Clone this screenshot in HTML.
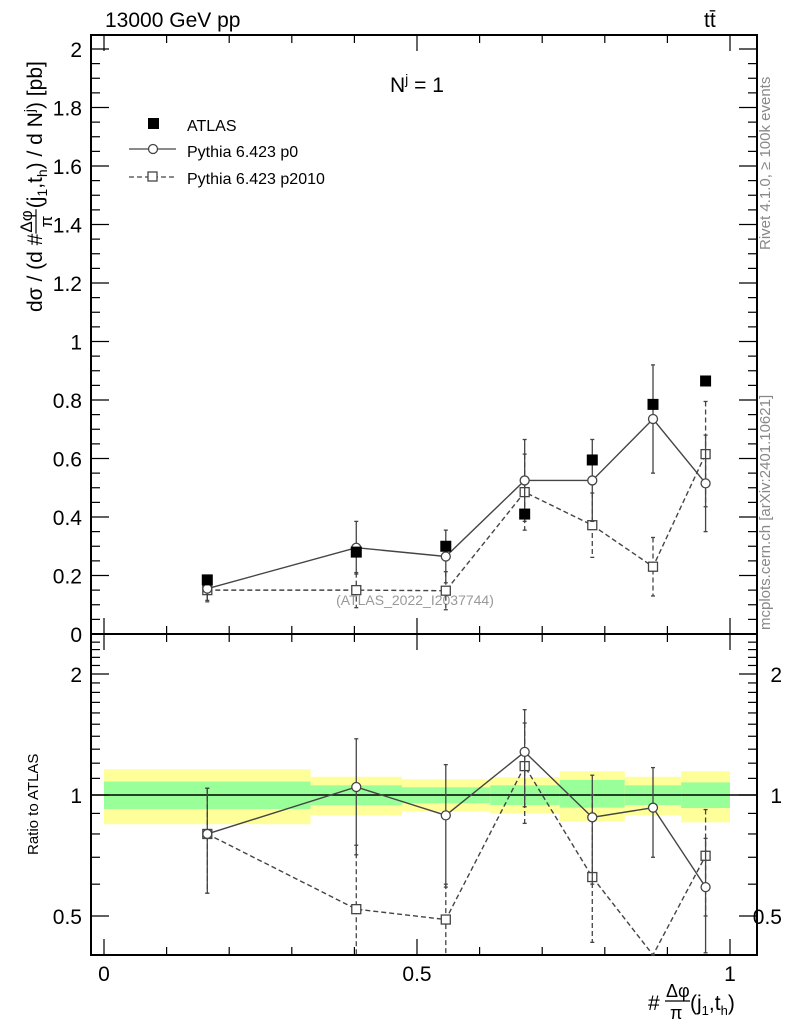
<!DOCTYPE html>
<html><head><meta charset="utf-8"><style>
body{margin:0;background:#fff;}
svg{display:block;font-family:"Liberation Sans",Arial,sans-serif;}
</style></head><body>
<svg id="c" width="786" height="1024" viewBox="0 0 786 1024" xmlns="http://www.w3.org/2000/svg">
<text x="105" y="27" font-size="21">13000 GeV pp</text>
<text x="704" y="27" font-size="21">tt̄</text>
<text x="390" y="92" font-size="21">N<tspan dy="-8" font-size="14">j</tspan><tspan dy="8"> = 1</tspan></text>
<text transform="translate(770,250) rotate(-90)" font-size="15" fill="#888">Rivet 4.1.0, ≥ 100k events</text>
<text transform="translate(770,630) rotate(-90)" font-size="15" fill="#888">mcplots.cern.ch [arXiv:2401.10621]</text>
<text x="415" y="605" font-size="14" fill="#999" text-anchor="middle">(ATLAS_2022_I2037744)</text>
<g id="yt" transform="translate(42,312) rotate(-90)" font-size="21"></g>
<text transform="translate(38,855) rotate(-90)" font-size="15">Ratio to ATLAS</text>
<g font-size="21">
<text x="648" y="1010">#</text>
<text x="666" y="997" font-size="18">Δφ</text>
<line x1="665" y1="1001" x2="690" y2="1001" stroke="#000" stroke-width="1.2"/>
<text x="670" y="1019" font-size="18">π</text>
<text x="690" y="1010">(j<tspan dy="5" font-size="13">1</tspan><tspan dy="-5">,t</tspan><tspan dy="5" font-size="13">h</tspan><tspan dy="-5">)</tspan></text>
</g>
<g id="g"></g>
</svg>
<script>
const xCenters=[0.165,0.403,0.546,0.672,0.780,0.877,0.961];
const binEdges=[0,0.33,0.476,0.617,0.728,0.832,0.922,1];
const atlas=[0.185,0.28,0.30,0.41,0.595,0.785,0.865];
const p0=[0.155,0.295,0.265,0.525,0.525,0.735,0.515];
const p0Err=[0.04,0.09,0.09,0.14,0.14,0.185,0.165];
const p2010=[0.15,0.15,0.148,0.485,0.372,0.23,0.615];
const p2010Err=[0.04,0.06,0.065,0.13,0.11,0.1,0.18];
const yellowHi=[1.159,1.11,1.094,1.107,1.146,1.11,1.146];
const yellowLo=[0.846,0.89,0.91,0.90,0.86,0.89,0.855];
const greenHi=[1.08,1.057,1.045,1.057,1.09,1.057,1.075];
const greenLo=[0.923,0.943,0.954,0.944,0.93,0.944,0.928];
const r0=[0.80,1.047,0.89,1.28,0.88,0.93,0.59];
const r0Lo=[0.57,0.71,0.59,0.935,0.60,0.70,0.405];
const r0Hi=[1.04,1.38,1.19,1.63,1.12,1.17,0.78];
const r2010=[0.80,0.52,0.49,1.18,0.625,0.29,0.706];
const r2010Lo=[0.57,0.30,0.30,0.85,0.43,0.15,0.50];
const r2010Hi=[1.04,0.75,0.60,1.51,1.0,0.40,0.92];
const mainTicks=["0","0.2","0.4","0.6","0.8","1","1.2","1.4","1.6","1.8","2"];
const ratioTicks=[0.5,1,2];

const L=91,R=757,T=35,MB=634,RB=955;
const X=v=>104+v*626;
const Y=v=>634-v*292.5;
const RY=v=>795-Math.log10(v)*402;
const g=document.getElementById('g');
const NS="http://www.w3.org/2000/svg";
function mk(t,a,p){const e=document.createElementNS(NS,t);for(const k in a)e.setAttribute(k,a[k]);(p||g).appendChild(e);return e;}
const clamp=(v,a,b)=>Math.max(a,Math.min(b,v));

// y-axis title built piecewise
(function(){
 const yt=document.getElementById('yt');let cx=0;
 function piece(s,dy,fs){const t=mk('text',{x:cx,y:dy,'font-size':fs},yt);t.textContent=s;cx+=t.getComputedTextLength();return t;}
 piece("dσ / (d #",0,21);
 const fx=cx;
 const a=mk('text',{x:fx+1,y:-10,'font-size':17},yt);a.textContent="Δφ";
 const w=a.getComputedTextLength();
 mk('line',{x1:fx,x2:fx+w+2,y1:-6,y2:-6,stroke:'#000','stroke-width':1.2},yt);
 const b=mk('text',{x:fx+w/2+1,y:10,'font-size':17,'text-anchor':'middle'},yt);b.textContent="π";
 cx=fx+w+3;
 piece("(j",0,21);piece("1",5,14);piece(",t",0,21);piece("h",5,14);piece(") / d N",0,21);piece("j",-8,14);piece(") [pb]",0,21);
})();

// bands
for(let i=0;i<7;i++){
 const x1=X(binEdges[i]),x2=X(binEdges[i+1]);
 const yb=mk('rect',{x:x1,y:RY(yellowHi[i]),width:x2-x1,height:RY(yellowLo[i])-RY(yellowHi[i]),fill:'#ffff99'});
 
 
 const gb=mk('rect',{x:x1,y:RY(greenHi[i]),width:x2-x1,height:RY(greenLo[i])-RY(greenHi[i]),fill:'#99ff99'});
 
 
}
mk('line',{x1:L,x2:R,y1:RY(1),y2:RY(1),stroke:'#000','stroke-width':1.5});

const f1=mk('rect',{x:L,y:T,width:R-L,height:MB-T,fill:'none',stroke:'#000','stroke-width':2});


const f2=mk('rect',{x:L,y:MB,width:R-L,height:RB-MB,fill:'none',stroke:'#000','stroke-width':2});



for(let i=0;i<=10;i++){const x=X(i/10),len=i%5==0?16:8;
 [[T,1],[MB,-1],[MB,1],[RB,-1]].forEach(([y,d])=>mk('line',{x1:x,x2:x,y1:y,y2:y+d*len,stroke:'#000','stroke-width':1.2}));
}
["0","0.5","1"].forEach((s,i)=>{const t=mk('text',{x:X(i*0.5),y:981,'font-size':21,'text-anchor':'middle'});t.textContent=s;
 });
for(let i=0;i<=40;i++){const v=i*0.05,y=Y(v);if(y<T)continue;const len=i%4==0?18:9;
 mk('line',{x1:L,x2:L+len,y1:y,y2:y,stroke:'#000','stroke-width':1.2});
 mk('line',{x1:R,x2:R-len,y1:y,y2:y,stroke:'#000','stroke-width':1.2});}
mainTicks.forEach((s,i)=>{const t=mk('text',{x:82,y:Y(i*0.2)+8,'font-size':21,'text-anchor':'end'});t.textContent=s;
 });
for(let v=0.4;v<=2.5;v+=0.1){const vv=Math.round(v*10)/10,y=RY(vv);if(y<MB||y>RB)continue;
 const major=[0.5,1,2].includes(vv),len=major?18:9;
 mk('line',{x1:L,x2:L+len,y1:y,y2:y,stroke:'#000','stroke-width':1.2});
 mk('line',{x1:R,x2:R-len,y1:y,y2:y,stroke:'#000','stroke-width':1.2});}
ratioTicks.forEach(v=>{const s=String(v);
 const a=mk('text',{x:82,y:RY(v)+8,'font-size':21,'text-anchor':'end'});a.textContent=s;
 
 const b=mk('text',{x:782,y:RY(v)+8,'font-size':21,'text-anchor':'end'});b.textContent=s;
 });

function series(vals,lo,hi,yf,dash,shape,name,ymin,ymax){
 const pts=vals.map((v,i)=>[X(xCenters[i]),clamp(yf(v),ymin,ymax)]);
 const pl=mk('polyline',{points:pts.map(p=>p.join(',')).join(' '),fill:'none',stroke:'#444','stroke-width':1.4,'stroke-dasharray':dash});
 
 
 vals.forEach((v,i)=>{const x=X(xCenters[i]);
  const y1=clamp(yf(hi[i]),ymin,ymax),y2=clamp(yf(lo[i]),ymin,ymax);
  const e=mk('line',{x1:x,x2:x,y1:y1,y2:y2,stroke:'#444','stroke-width':1.3,'stroke-dasharray':dash});
  
  
  [y1,y2].forEach(yy=>{if(yy>ymin&&yy<ymax)mk('line',{x1:x-2,x2:x+2,y1:yy,y2:yy,stroke:'#444','stroke-width':1.3});});
  const y=yf(v);if(y<ymin||y>ymax)return;
  let m;
  if(shape=='c')m=mk('circle',{cx:x,cy:y,r:4.5,fill:'#fff',stroke:'#444','stroke-width':1.3});
  else m=mk('rect',{x:x-4.5,y:y-4.5,width:9,height:9,fill:'#fff',stroke:'#444','stroke-width':1.3});
  
  
 });
}
series(p2010,p2010.map((v,i)=>v-p2010Err[i]),p2010.map((v,i)=>v+p2010Err[i]),Y,'5,3','s','p2010',T,MB);
series(p0,p0.map((v,i)=>v-p0Err[i]),p0.map((v,i)=>v+p0Err[i]),Y,'','c','p0',T,MB);
atlas.forEach((v,i)=>{const m=mk('rect',{x:X(xCenters[i])-5.5,y:Y(v)-5.5,width:11,height:11,fill:'#000'});
 });
series(r2010,r2010Lo,r2010Hi,RY,'5,3','s','ratio-p2010',MB,RB);
series(r0,r0Lo,r0Hi,RY,'','c','ratio-p0',MB,RB);

const lg=mk('g',{});
mk('rect',{x:148,y:118,width:11,height:11,fill:'#000'},lg);
mk('line',{x1:129,x2:176,y1:149,y2:149,stroke:'#444','stroke-width':1.3},lg);
mk('circle',{cx:153,cy:149,r:4.5,fill:'#fff',stroke:'#444','stroke-width':1.3},lg);
mk('line',{x1:129,x2:176,y1:177,y2:177,stroke:'#444','stroke-width':1.3,'stroke-dasharray':'5,3'},lg);
mk('rect',{x:148,y:172,width:9,height:9,fill:'#fff',stroke:'#444','stroke-width':1.3},lg);
[["ATLAS",131],["Pythia 6.423 p0",157],["Pythia 6.423 p2010",184]].forEach(([s,y])=>{
 const t=mk('text',{x:187,y:y,'font-size':16},lg);t.textContent=s;
 });
</script>
</body></html>
